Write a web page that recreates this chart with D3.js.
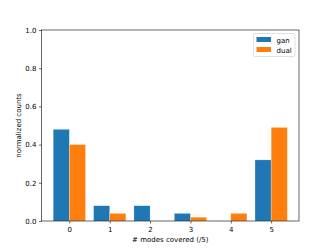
<!DOCTYPE html>
<html><head><meta charset="utf-8">
<script src="https://cdn.jsdelivr.net/npm/d3@7"></script>
<style>body{margin:0;background:#fff}svg{display:block}text{font-family:"DejaVu Sans",sans-serif;fill:#000}</style>
</head><body><svg id="c" width="332" height="249"></svg>
<script>
const categories = [0, 1, 2, 3, 4, 5];
const ganValues = [0.48, 0.08, 0.08, 0.04, 0.00, 0.32];
const dualValues = [0.40, 0.04, 0.00, 0.02, 0.04, 0.49];
const yTicks = [0.0, 0.2, 0.4, 0.6, 0.8, 1.0];
const seriesNames = ["gan", "dual"];
const colors = ["#1f77b4", "#ff7f0e"];

const svg = d3.select("#c");
const L = 41.5, R = 299, T = 30, B = 221;
const barW = 0.4;
const x = d3.scaleLinear().domain([-0.4 - 0.29, 5.4 + 0.29]).range([L, R]);
const y = d3.scaleLinear().domain([0, 1]).range([B, T]);

const series = [ganValues, dualValues];
series.forEach((vals, si) => {
  svg.append("g").selectAll("rect").data(categories).join("rect")
    .attr("x", d => x(d - barW + si * barW))
    .attr("width", d => x(barW) - x(0))
    .attr("y", (d, i) => y(vals[i]))
    .attr("height", (d, i) => y(0) - y(vals[i]))
    .attr("fill", colors[si])
    .attr("stroke", "#fff").attr("stroke-width", 0.5).attr("stroke-opacity", 0.5);
});

const fs = 7;
const xAxis = svg.append("g").attr("transform", `translate(0,${B})`)
  .call(d3.axisBottom(x).tickValues(categories).tickSize(2.5).tickPadding(3.5).tickFormat(d3.format("d")));
const yAxis = svg.append("g").attr("transform", `translate(${L},0)`)
  .call(d3.axisLeft(y).tickValues(yTicks).tickSize(2.5).tickPadding(2.5).tickFormat(d3.format(".1f")));
[xAxis, yAxis].forEach(a => {
  a.select(".domain").remove();
  a.selectAll("text").attr("font-size", fs).attr("font-family", "DejaVu Sans").attr("fill", "#000");
  a.selectAll("line").attr("stroke", "#000").attr("stroke-width", 0.6);
});
svg.append("rect").attr("x", L).attr("y", T).attr("width", R - L).attr("height", B - T)
  .attr("fill", "none").attr("stroke", "#000").attr("stroke-width", 0.6);

svg.append("text").attr("x", (L + R) / 2).attr("y", 241.5).attr("text-anchor", "middle")
  .attr("font-size", fs).text("# modes covered (/5)");
svg.append("text").attr("transform", `translate(21,${(T + B) / 2}) rotate(-90)`)
  .attr("text-anchor", "middle").attr("font-size", fs).text("normalized counts");

const lg = svg.append("g");
lg.append("rect").attr("x", 253.5).attr("y", 33.5).attr("width", 41.5).attr("height", 23)
  .attr("rx", 1.5).attr("fill", "#fff").attr("fill-opacity", 0.8).attr("stroke", "#ccc").attr("stroke-width", 0.6);
seriesNames.forEach((n, i) => {
  lg.append("rect").attr("x", 256.5).attr("y", 37 + i * 10).attr("width", 14.5).attr("height", 5).attr("fill", colors[i]);
  lg.append("text").attr("x", 276.5).attr("y", 42.5 + i * 10).attr("font-size", fs).text(n);
});
</script></body></html>
